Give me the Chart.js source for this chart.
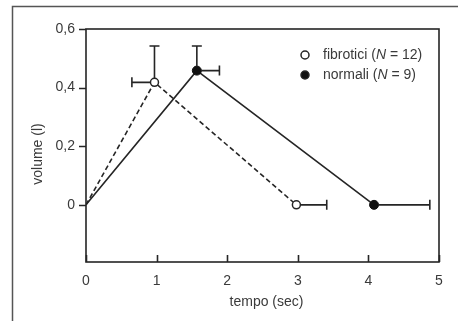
<!DOCTYPE html>
<html><head><meta charset="utf-8">
<script src="https://cdn.jsdelivr.net/npm/chart.js@4"></script>
<style>html,body{margin:0;padding:0;background:#fff}#wrap{width:458px;height:321px}</style>
</head><body><div id="wrap"><canvas id="c" width="458" height="321"></canvas></div>
<script>
const seriesNames = ["fibrotici", "normali"];
const seriesN = [12, 9];
const fibX = [0, 0.97, 2.98];
const fibY = [0, 0.418, 0];
const norX = [0, 1.57, 4.08];
const norY = [0, 0.458, 0];
// one-sided error bars: [pointIndex, direction, endValue]
const fibErr = [[1, "up", 0.542], [1, "left", 0.65], [2, "right", 3.41]];
const norErr = [[1, "up", 0.542], [1, "right", 1.89], [2, "right", 4.87]];
const xTicks = [0, 1, 2, 3, 4, 5];
const yTicks = [0, 0.2, 0.4, 0.6];
const xTitle = "tempo (sec)";
const yTitle = "volume (l)";

const INK = "#252525";
const TXT = "#3a3a3a";
const FONT = "Liberation Sans, Arial, sans-serif";

function pts(xs, ys){ return xs.map((x,i)=>({x:x, y:ys[i]})); }

const deco = {
  id: "deco",
  beforeDraw(chart){
    const ctx = chart.ctx;
    ctx.save();
    ctx.fillStyle = "#fff";
    ctx.fillRect(0,0,chart.width,chart.height);
    // outer frame (top + left visible)
    ctx.strokeStyle = "#555";
    ctx.lineWidth = 1.5;
    ctx.beginPath();
    ctx.moveTo(12.5, 321); ctx.lineTo(12.5, 6.5); ctx.lineTo(458, 6.5);
    ctx.stroke();
    ctx.restore();
  },
  afterDatasetsDraw(chart){
    const ctx = chart.ctx, a = chart.chartArea;
    const xs = chart.scales.x, ys = chart.scales.y;
    ctx.save();
    // plot box
    ctx.strokeStyle = INK; ctx.lineWidth = 1.6;
    ctx.strokeRect(a.left, a.top, a.right - a.left, a.bottom - a.top);
    // x ticks inward
    ctx.beginPath();
    xTicks.forEach(v=>{ const px = Math.round(xs.getPixelForValue(v))+0.5; ctx.moveTo(px, a.bottom); ctx.lineTo(px, a.bottom-7); });
    // y ticks outward
    yTicks.forEach(v=>{ const py = Math.round(ys.getPixelForValue(v))+0.5; ctx.moveTo(a.left, py); ctx.lineTo(a.left-7, py); });
    ctx.stroke();
    // error bars
    const drawErr = (xsArr, ysArr, errs)=>{
      ctx.strokeStyle = INK; ctx.lineWidth = 1.6;
      errs.forEach(([i, dir, end])=>{
        const px = xs.getPixelForValue(xsArr[i]), py = ys.getPixelForValue(ysArr[i]);
        ctx.beginPath();
        if (dir === "up"){
          const ey = ys.getPixelForValue(end);
          ctx.moveTo(px, py-4); ctx.lineTo(px, ey);
          ctx.moveTo(px-5, ey); ctx.lineTo(px+5, ey);
        } else {
          const ex = xs.getPixelForValue(end);
          const s = dir === "left" ? -4 : 4;
          ctx.moveTo(px+s, py); ctx.lineTo(ex, py);
          ctx.moveTo(ex, py-5); ctx.lineTo(ex, py+5);
        }
        ctx.stroke();
      });
    };
    drawErr(fibX, fibY, fibErr);
    drawErr(norX, norY, norErr);
    // axis titles
    ctx.fillStyle = TXT;
    ctx.font = "14px " + FONT;
    ctx.textAlign = "center"; ctx.textBaseline = "middle";
    ctx.fillText(xTitle, (a.left + a.right)/2 + 4, 302);
    ctx.save();
    ctx.translate(38, 154); ctx.rotate(-Math.PI/2);
    ctx.fillText(yTitle, 0, 0);
    ctx.restore();
    // legend
    const legY = [55, 75];
    seriesNames.forEach((name, k)=>{
      const y = legY[k];
      ctx.beginPath();
      ctx.arc(305, y, 4, 0, Math.PI*2);
      ctx.fillStyle = k === 0 ? "#fff" : "#111";
      ctx.fill();
      ctx.strokeStyle = INK; ctx.lineWidth = 1.5; ctx.stroke();
      ctx.fillStyle = TXT; ctx.textAlign = "left"; ctx.textBaseline = "middle";
      let x = 323;
      const parts = [[name + " (", false], ["N", true], [" = " + seriesN[k] + ")", false]];
      parts.forEach(([t, it])=>{
        ctx.font = (it ? "italic " : "") + "14px " + FONT;
        ctx.fillText(t, x, y);
        x += ctx.measureText(t).width;
      });
    });
    ctx.restore();
  }
};

new Chart(document.getElementById("c"), {
  type: "scatter",
  data: {
    datasets: [
      { label: seriesNames[0], data: pts(fibX, fibY), showLine: true,
        borderColor: INK, borderWidth: 1.6, borderDash: [5, 3],
        pointRadius: [0, 4, 4], pointBackgroundColor: "#fff", pointBorderColor: INK, pointBorderWidth: 1.5 },
      { label: seriesNames[1], data: pts(norX, norY), showLine: true,
        borderColor: INK, borderWidth: 1.6,
        pointRadius: [0, 4.5, 4.5], pointBackgroundColor: "#111", pointBorderColor: "#111", pointBorderWidth: 1 }
    ]
  },
  options: {
    responsive: false, animation: false, devicePixelRatio: 1,
    layout: { padding: { left: 0, right: 19, top: 29, bottom: 0 } },
    plugins: { legend: { display: false }, tooltip: { enabled: false } },
    scales: {
      x: { type: "linear", min: 0, max: 5,
        afterBuildTicks: s => { s.ticks = xTicks.map(v=>({value:v})); },
        afterFit: s => { s.height = 59; },
        grid: { display: false, drawTicks: false }, border: { display: false },
        ticks: { padding: 11, color: TXT, font: { family: FONT, size: 14 }, maxRotation: 0 } },
      y: { type: "linear", min: -0.195, max: 0.6,
        afterBuildTicks: s => { s.ticks = yTicks.map(v=>({value:v})); },
        afterFit: s => { s.width = 86; },
        grid: { display: false, drawTicks: false }, border: { display: false },
        ticks: { padding: 11, color: TXT, font: { family: FONT, size: 14 },
          callback: v => String(v).replace(".", ",") } }
    }
  },
  plugins: [deco]
});
</script></body></html>
